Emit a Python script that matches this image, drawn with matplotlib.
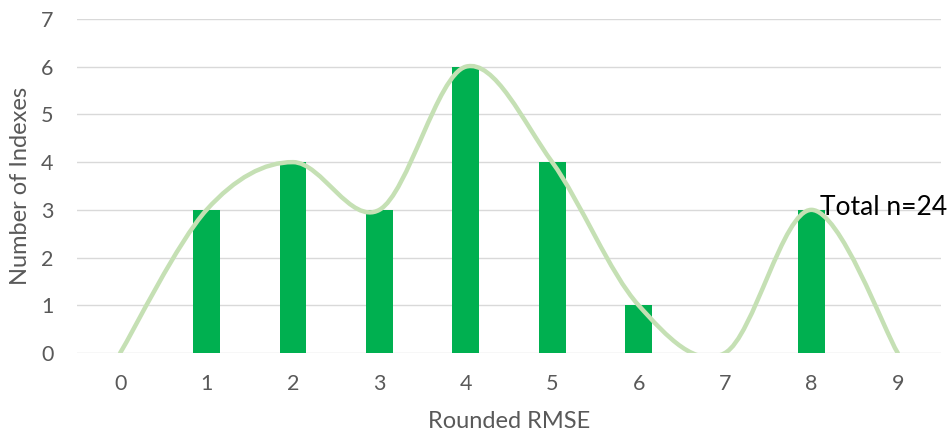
import numpy as np
import matplotlib
matplotlib.use("Agg")
import matplotlib.pyplot as plt
from matplotlib.path import Path
from matplotlib.patches import PathPatch

rmse = [0, 1, 2, 3, 4, 5, 6, 7, 8, 9]
counts = [0, 3, 4, 3, 6, 4, 1, 0, 3, 0]
annotation = "Total n=24"

plt.rcParams['font.family'] = ['Lato', 'DejaVu Sans']

fig = plt.figure(figsize=(9.5, 4.41), dpi=100)
ax = fig.add_axes([0.081, 0.1995, 0.9095, 0.7575])

ax.bar(rmse, counts, width=0.31, color='#00B050', zorder=2)

# Excel-style smoothed line (Catmull-Rom via cubic Bezier)
x = np.array(rmse, float)
y = np.array(counts, float)
n = len(x)
verts = [(x[0], y[0])]
codes = [Path.MOVETO]
t = 1 / 6
for i in range(n - 1):
    p0 = (x[i - 1], y[i - 1]) if i > 0 else (x[i], y[i])
    p1 = (x[i], y[i])
    p2 = (x[i + 1], y[i + 1])
    p3 = (x[i + 2], y[i + 2]) if i + 2 < n else (x[i + 1], y[i + 1])
    c1 = (p1[0] + (p2[0] - p0[0]) * t, p1[1] + (p2[1] - p0[1]) * t)
    c2 = (p2[0] - (p3[0] - p1[0]) * t, p2[1] - (p3[1] - p1[1]) * t)
    verts += [c1, c2, p2]
    codes += [Path.CURVE4] * 3
ax.add_patch(PathPatch(Path(verts, codes), facecolor='none', edgecolor='#C5E0B4',
                       lw=3.2, zorder=3, capstyle='round'))

ax.text(8.1, 3.05, annotation, fontsize=19, color='black', va='center', ha='left', zorder=4)

ax.set_xlim(-0.5, 9.5)
ax.set_ylim(0, 7)
ax.set_xticks(rmse)
ax.set_yticks(range(0, 8))
ax.grid(axis='y', color='#D9D9D9', lw=1, zorder=0)
ax.set_axisbelow(True)
for s in ax.spines.values():
    s.set_visible(False)
ax.tick_params(axis='x', length=0, labelsize=15.5, colors='#595959', pad=15)
ax.tick_params(axis='y', length=0, labelsize=15.5, colors='#595959', pad=17)
ax.set_xlabel('Rounded RMSE', fontsize=17, color='#595959', labelpad=12)
ax.set_ylabel('Number of Indexes', fontsize=17, color='#595959', labelpad=7)

fig.savefig('out.png', dpi=100)
